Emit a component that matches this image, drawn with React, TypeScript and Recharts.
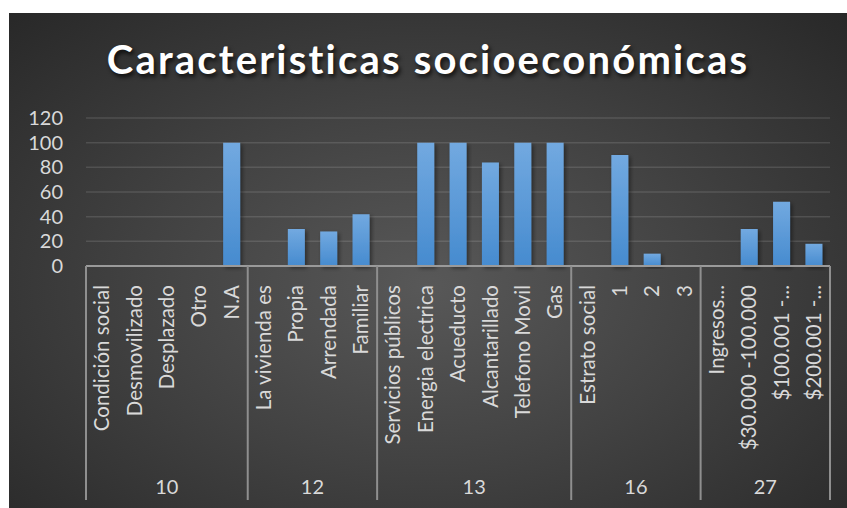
import { BarChart, Bar, XAxis, YAxis, CartesianGrid } from 'recharts'

const categories = [
  'Condición social', 'Desmovilizado', 'Desplazado', 'Otro', 'N.A',
  'La vivienda es', 'Propia', 'Arrendada', 'Familiar',
  'Servicios públicos', 'Energia electrica', 'Acueducto', 'Alcantarillado', 'Telefono Movil', 'Gas',
  'Estrato social', '1', '2', '3',
  'Ingresos...', '$30.000 -100.000', '$100.001 -...', '$200.001 -...',
]
const values = [
  0, 0, 0, 0, 100,
  0, 30, 28, 42,
  0, 100, 100, 84, 100, 100,
  0, 90, 10, 0,
  0, 30, 52, 18,
]
const groupLabels = ['10', '12', '13', '16', '27']
const groupSizes = [5, 4, 6, 4, 4]
const yTicks = [0, 20, 40, 60, 80, 100, 120]

const W = 838
const H = 495
const MARGIN = { top: 105, right: 17, bottom: 8, left: 0 }
const Y_W = 77
const X_H = 234
const LABEL = '#d9d9d9'
const FONT = 'Lato, "Open Sans", sans-serif'

const data = categories.map((name, i) => ({ name, value: values[i] }))

// index of first category in each group
const groupStarts = groupSizes.map((_, g) => groupSizes.slice(0, g).reduce((a, b) => a + b, 0))
const fallbackHalf = (W - MARGIN.left - MARGIN.right - Y_W) / categories.length / 2

function CategoryTick(props: any) {
  const { x, y, payload, index } = props
  const half = payload?.offset || fallbackHalf
  const g = groupStarts.indexOf(index)
  const ty = y + 19
  return (
    <g>
      <text
        x={x}
        y={ty}
        dy="0.35em"
        transform={`rotate(-90 ${x} ${ty})`}
        textAnchor="end"
        fill={LABEL}
        fontSize={20.5}
        fontFamily={FONT}
      >
        {payload.value}
      </text>
      {g >= 0 && (
        <>
          <line x1={x - half} x2={x - half} y1={y} y2={y + X_H} stroke="#8f8f8f" strokeWidth={2} />
          <text
            x={x - half + groupSizes[g] * half}
            y={y + 228}
            textAnchor="middle"
            fill={LABEL}
            fontSize={20}
            fontFamily={FONT}
          >
            {groupLabels[g]}
          </text>
        </>
      )}
      {index === categories.length - 1 && (
        <line x1={x + half} x2={x + half} y1={y} y2={y + X_H} stroke="#8f8f8f" strokeWidth={2} />
      )}
    </g>
  )
}

export default function App() {
  return (
    <div
      style={{
        position: 'absolute',
        left: 9,
        top: 13,
        width: W,
        height: H,
        background: 'radial-gradient(ellipse 75% 80% at 50% 55%, #585858 0%, #424242 45%, #262626 100%)',
        fontFamily: FONT,
      }}
    >
      <div
        style={{
          position: 'absolute',
          top: 22,
          left: 0,
          width: W,
          textAlign: 'center',
          color: '#ffffff',
          fontSize: 40,
          fontWeight: 700,
          letterSpacing: 2.2,
          textShadow: '2px 3px 4px rgba(0,0,0,0.75)',
        }}
      >
        Caracteristicas socioeconómicas
      </div>
      <BarChart width={W} height={H} data={data} margin={MARGIN} barCategoryGap="24%">
        <defs>
          <linearGradient id="barGrad" x1="0" y1="0" x2="0" y2="1">
            <stop offset="0%" stopColor="#72a9e0" />
            <stop offset="100%" stopColor="#468bcf" />
          </linearGradient>
          <filter id="barShadow" x="-30%" y="-10%" width="160%" height="130%">
            <feDropShadow dx="2" dy="2" stdDeviation="2" floodColor="#000" floodOpacity="0.45" />
          </filter>
        </defs>
        <CartesianGrid vertical={false} stroke="rgba(255,255,255,0.12)" strokeWidth={1.5} />
        <XAxis
          dataKey="name"
          interval={0}
          height={X_H}
          tickSize={0}
          tickMargin={0}
          axisLine={{ stroke: '#9a9a9a', strokeWidth: 2 }}
          tickLine={false}
          tick={<CategoryTick />}
        />
        <YAxis
          width={Y_W}
          domain={[0, 120]}
          ticks={yTicks}
          interval={0}
          axisLine={false}
          tickLine={false}
          tickSize={0}
          tickMargin={23}
          tick={{ fill: LABEL, fontSize: 20, fontFamily: FONT }}
        />
        <Bar dataKey="value" fill="url(#barGrad)" filter="url(#barShadow)" isAnimationActive={false} />
      </BarChart>
    </div>
  )
}
